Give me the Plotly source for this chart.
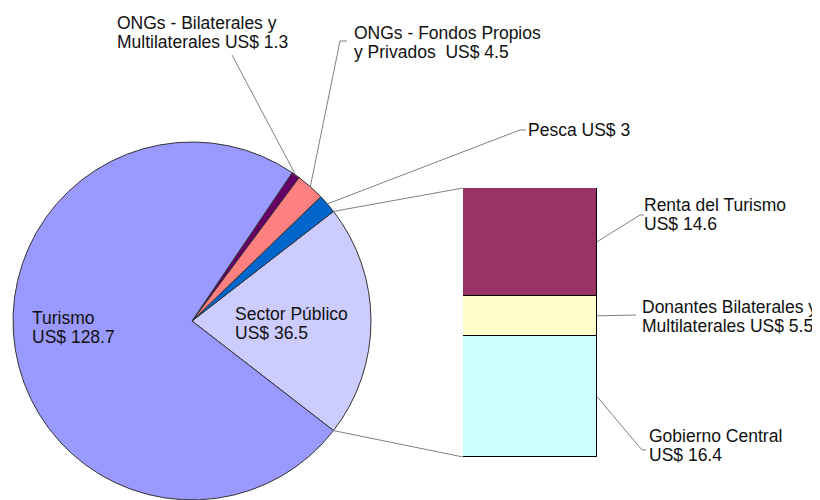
import math
import plotly.graph_objects as go

# window is 820x500; the page body has an 8px default margin
OFF = 8
W, H = 820 - OFF, 500 - OFF

# ---------------- data ----------------
pie_labels = ["Sector Público", "Pesca", "ONGs - Fondos Propios y Privados",
              "ONGs - Bilaterales y Multilaterales", "Turismo"]
pie_values = [36.5, 3.0, 4.5, 1.3, 128.7]
pie_colors = ["#CCCCFF", "#0066CC", "#FF8080", "#660066", "#9999FF"]

bar_labels = ["Gobierno Central", "Donantes Bilaterales y Multilaterales", "Renta del Turismo"]
bar_values = [16.4, 5.5, 14.6]
bar_colors = ["#CCFFFF", "#FFFFCC", "#993366"]

# label texts (lines)
pie_text = {
    "Turismo": ["Turismo", "US$ 128.7"],
    "Sector Público": ["Sector Público", "US$ 36.5"],
    "ONGs - Bilaterales y Multilaterales": ["ONGs - Bilaterales y", "Multilaterales US$ 1.3"],
    "ONGs - Fondos Propios y Privados": ["ONGs - Fondos Propios", "y Privados\u00a0\u00a0US$ 4.5"],
    "Pesca": ["Pesca US$ 3"],
}
bar_text = {
    "Renta del Turismo": ["Renta del Turismo", "US$ 14.6"],
    "Donantes Bilaterales y Multilaterales": ["Donantes Bilaterales y", "Multilaterales US$ 5.5"],
    "Gobierno Central": ["Gobierno Central", "US$ 16.4"],
}

# ---------------- layout geometry (window pixels) ----------------
cx, cy, r = 192, 321, 179
bx0, bx1, by_top, by_bot = 463, 597, 188, 457

def px(x):
    return (x - OFF) / W

def py(y):
    return 1 - (y - OFF) / H

total = sum(pie_values)
sp_angle = pie_values[0] / total * 360
# plotly (counterclockwise): first slice spans clockwise [rotation, rotation + d0] from 12 o'clock
rotation = 90 - sp_angle / 2

fig = go.Figure()
fig.add_trace(go.Pie(
    labels=pie_labels, values=pie_values, sort=False, direction="counterclockwise",
    rotation=rotation, textinfo="none", showlegend=False,
    marker=dict(colors=pie_colors, line=dict(color="#333333", width=1)),
    domain=dict(x=[px(cx - r), px(cx + r)], y=[max(0, py(cy + r)), py(cy - r)]),
))

for lab, val, col in zip(bar_labels, bar_values, bar_colors):
    fig.add_trace(go.Bar(
        x=[0], y=[val], name=lab, width=[1], showlegend=False,
        marker=dict(color=col, line=dict(color="#000000", width=1)),
        xaxis="x", yaxis="y",
    ))

bar_total = sum(bar_values)

# ---------------- helpers ----------------
def slice_angles():
    a = -sp_angle / 2
    out = []
    for v in pie_values:
        d = v / total * 360
        out.append((a, a + d))
        a += d
    return out

def pie_point(ang_deg, rr=r):
    a = math.radians(ang_deg)
    return cx + rr * math.cos(a), cy - rr * math.sin(a)

def bar_y(v):
    return by_bot - (by_bot - by_top) * v / bar_total

shapes = []
LEAD = dict(color="#808080", width=1)

def path(points, line=LEAD):
    d = "M " + " L ".join(f"{px(x):.5f},{py(y):.5f}" for x, y in points)
    shapes.append(dict(type="path", xref="paper", yref="paper", path=d, line=line))

angs = dict(zip(pie_labels, slice_angles()))

# connector lines pie -> bar
sp0, sp1 = angs["Sector Público"]
path([pie_point(sp1), (bx0, by_top)])
path([pie_point(sp0), (bx0, by_bot)])

def mid(lab):
    a0, a1 = angs[lab]
    return (a0 + a1) / 2

# pie label leaders
path([(232, 55), pie_point(mid("ONGs - Bilaterales y Multilaterales"))])
path([(347, 41), (340, 41), pie_point(mid("ONGs - Fondos Propios y Privados"))])
path([(526, 130), (520, 130), pie_point(mid("Pesca"))])

# bar label leaders
cum = 0
bar_mid = {}
for lab, v in zip(bar_labels, bar_values):
    bar_mid[lab] = bar_y(cum + v / 2)
    cum += v
path([(bx1, bar_mid["Renta del Turismo"]), (640, 215), (644, 215)])
path([(bx1, bar_mid["Donantes Bilaterales y Multilaterales"]), (636, 315)])
path([(bx1, bar_mid["Gobierno Central"]), (642, 450), (646, 450)])

fig.update_layout(shapes=shapes)

# ---------------- text ----------------
FONT = dict(family="Liberation Sans, Arial, sans-serif", size=17.5, color="#111111")
LS = 19
annots = []

def label(lines, x, y_first):
    for i, t in enumerate(lines):
        annots.append(dict(text=t, x=px(x), y=py(y_first + i * LS), xref="paper", yref="paper",
                           xanchor="left", yanchor="middle", showarrow=False, font=FONT,
                           borderpad=0))

label(pie_text["Turismo"], 31, 318)
label(pie_text["Sector Público"], 234, 314)
label(pie_text["ONGs - Bilaterales y Multilaterales"], 116, 23)
label(pie_text["ONGs - Fondos Propios y Privados"], 353, 33)
label(pie_text["Pesca"], 527, 130)
label(bar_text["Renta del Turismo"], 643, 205)
label(bar_text["Donantes Bilaterales y Multilaterales"], 641, 307)
label(bar_text["Gobierno Central"], 648, 436)

fig.update_layout(
    annotations=annots,
    width=W, height=H,
    margin=dict(l=0, r=0, t=0, b=0),
    paper_bgcolor="white", plot_bgcolor="rgba(0,0,0,0)",
    barmode="stack", bargap=0,
    showlegend=False,
    xaxis=dict(domain=[px(bx0), px(bx1)], range=[-0.5, 0.5], visible=False, fixedrange=True),
    yaxis=dict(domain=[py(by_bot), py(by_top)], range=[0, bar_total], visible=False, fixedrange=True),
)

fig.write_html("out.html")
